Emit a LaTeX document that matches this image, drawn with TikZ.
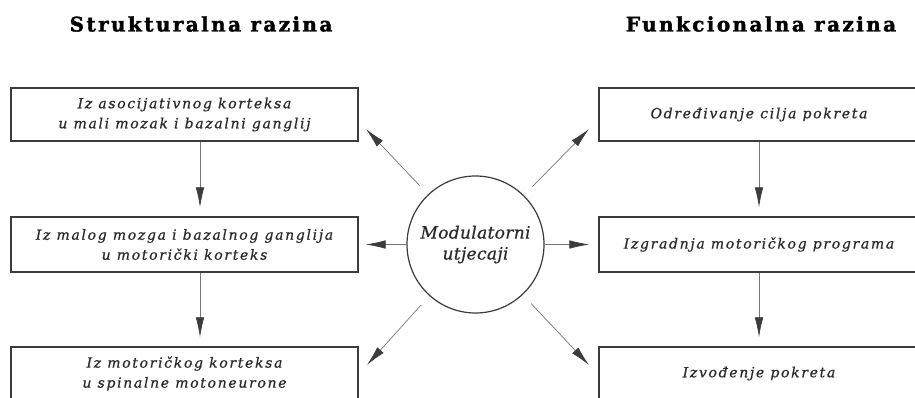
\documentclass[tikz,border=0pt]{standalone}
\usepackage{fontspec}
\setmainfont{DejaVu Serif}
\newfontfamily\titlefont[LetterSpace=12,FakeBold=1.8]{DejaVu Serif}
\newfontfamily\boxfont[LetterSpace=12,FakeBold=0.6]{DejaVu Serif}
\newfontfamily\circfont[LetterSpace=2,FakeBold=0.6]{DejaVu Serif}
\usetikzlibrary{arrows.meta}
\definecolor{ink}{HTML}{2A2A2A}
\definecolor{line}{HTML}{3C3C3C}
\tikzset{
  x=1pt,y=-1pt,
  box/.style={draw=line,line width=1.4pt,minimum height=53pt,align=center,
    font=\boxfont\fontsize{14}{20}\selectfont\itshape,text=ink,inner sep=0pt},
  lbox/.style={box,minimum width=347pt},
  rbox/.style={box,minimum width=320pt},
  arr/.style={draw=line!70,line width=0.7pt,-{Latex[length=20pt,width=8.5pt,color=line]}},
  title/.style={font=\titlefont\bfseries\fontsize{20}{22}\selectfont,text=black}
}
\begin{document}
\begin{tikzpicture}
\clip (0,0) rectangle (915,398);
\fill[white] (0,0) rectangle (915,398);
\node[title] (T1) at (201,24) {Strukturalna razina};
\node[title] (T2) at (761,24) {Funkcionalna razina};
\node[lbox] (L1) at (184.5,114.5) {Iz asocijativnog korteksa\\u mali mozak i bazalni ganglij};
\node[lbox,minimum height=55pt] (L2) at (184.5,244.5) {Iz malog mozga i bazalnog ganglija\\u motorički korteks};
\node[lbox] (L3) at (184.5,373.5) {Iz motoričkog korteksa\\u spinalne motoneurone};
\node[rbox] (R1) at (759,114.5) {Određivanje cilja pokreta};
\node[rbox,minimum height=55pt] (R2) at (759,244.5) {Izgradnja motoričkog programa};
\node[rbox] (R3) at (759,373.5) {Izvođenje pokreta};
\node[circle,draw=line,line width=1.2pt,minimum size=137pt,inner sep=0pt,align=center,
  font=\circfont\fontsize{17}{21}\selectfont\itshape,text=ink] (M) at (475.5,244.5) {Modulatorni\\utjecaji};
\coordinate (tUL) at (366,129);
\coordinate (tUR) at (589,129);
\coordinate (tLL) at (367,365);
\coordinate (tLR) at (589,365);
\draw[arr,shorten <=12pt] (M) -- (tUL);
\draw[arr,shorten <=12pt] (M) -- (tUR);
\draw[arr,shorten <=12pt] (M) -- (tLL);
\draw[arr,shorten <=12pt] (M) -- (tLR);
\draw[arr,shorten >=7pt] (M.west) -- (M.west -| L2.east);
\draw[arr,shorten >=9pt] (M.east) -- (M.east -| R2.west);
\draw[arr,shorten >=9pt] ([xshift=15.5pt]L1.south) -- ([xshift=15.5pt]L2.north);
\draw[arr,shorten >=9pt] ([xshift=15.5pt]L2.south) -- ([xshift=15.5pt]L3.north);
\draw[arr,shorten >=9pt] (R1.south) -- (R2.north);
\draw[arr,shorten >=9pt] (R2.south) -- (R3.north);
\end{tikzpicture}
\end{document}
